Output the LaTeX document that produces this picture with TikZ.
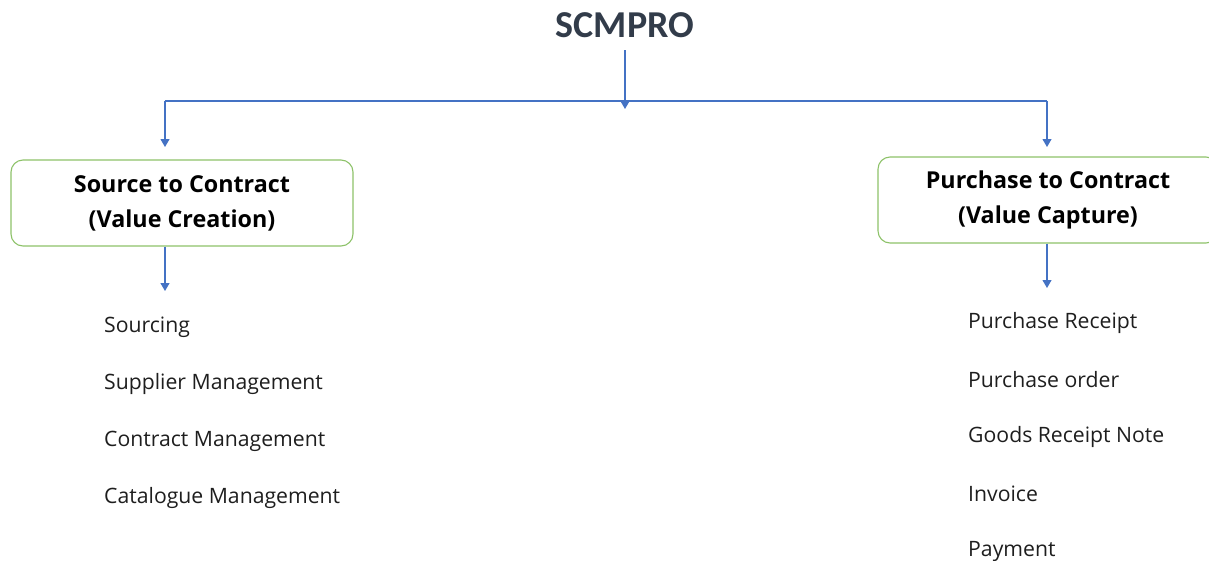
\documentclass[tikz,border=0pt]{standalone}
\usepackage{fontspec}
\setmainfont{Open Sans}
\newfontfamily\titlefont{Carlito}
\usetikzlibrary{arrows.meta}
\definecolor{linkblue}{RGB}{68,114,196}
\definecolor{boxgreen}{RGB}{141,194,105}
\definecolor{titleslate}{RGB}{50,60,74}
\definecolor{itemtext}{RGB}{30,30,30}
\tikzset{
  link/.style={draw=linkblue, line width=1.1pt},
  arrowlink/.style={link, -{Triangle[width=9pt,length=8pt]}},
  stagebox/.style={draw=boxgreen, line width=1.1pt, rounded corners=12pt,
    minimum width=342pt, minimum height=86pt, align=center,
    font=\fontsize{23.3}{35}\selectfont\bfseries, text=black,
    execute at begin node={\rule{0pt}{22pt}}},
  itemlabel/.style={anchor=west, inner sep=0pt, text=itemtext,
    font=\fontsize{21.2}{21}\selectfont},
}
\begin{document}
\begin{tikzpicture}[x=1pt,y=-1pt]
\useasboundingbox (0,0) rectangle (1209,560);
\clip (0,0) rectangle (1209,560);

% title
\node[font=\titlefont\fontsize{38}{38}\selectfont\bfseries, text=titleslate] (title) at (625,25) {SCMPRO};

% stage boxes
\node[stagebox] (src) at (182,203) {Source to Contract\\(Value Creation)};
\node[stagebox, minimum width=340pt] (pur) at (1048,200) {Purchase to Contract\\(Value Capture)};

% branching connectors
\coordinate (stem) at (625,50);
\coordinate (hub) at (625,109);
\coordinate (lj) at (165,101);
\coordinate (rj) at (1047,101);
\draw[link] (lj) -- (rj);
\draw[arrowlink] (stem) -- (hub);
\draw[arrowlink] (lj) -- (lj |- 0,147);
\draw[arrowlink] (rj) -- (rj |- 0,147);

% arrows below the boxes
\coordinate (lsub) at (165,291);
\coordinate (rsub) at (1047,288);
\draw[arrowlink] (src.south -| lsub) -- (lsub);
\draw[arrowlink] (pur.south -| rsub) -- (rsub);

% source-to-contract items
\node[itemlabel] (s1) at (104,327) {Sourcing};
\node[itemlabel] (s2) at (104,384) {Supplier Management};
\node[itemlabel] (s3) at (104,441) {Contract Management};
\node[itemlabel] (s4) at (104,498) {Catalogue Management};

% purchase-to-contract items
\node[itemlabel] (p1) at (968,323) {Purchase Receipt};
\node[itemlabel] (p2) at (968,380) {Purchase order};
\node[itemlabel] (p3) at (968,437) {Goods Receipt Note};
\node[itemlabel] (p4) at (968,494) {Invoice};
\node[itemlabel] (p5) at (968,551) {Payment};
\end{tikzpicture}
\end{document}
